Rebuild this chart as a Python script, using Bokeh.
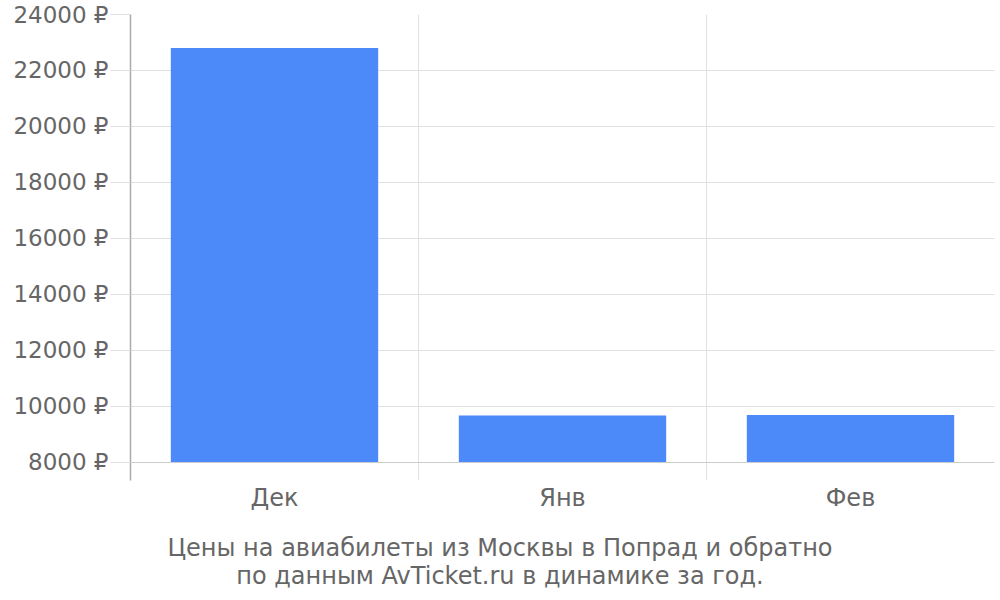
from bokeh.plotting import figure
from bokeh.models import FixedTicker, PrintfTickFormatter, Span, Range1d, Div
from bokeh.layouts import column
from bokeh.embed import file_html
from bokeh.resources import INLINE

months = ["Дек", "Янв", "Фев"]
prices = [22800, 9680, 9700]
y_ticks = [8000, 10000, 12000, 14000, 16000, 18000, 20000, 22000, 24000]
title_lines = ["Цены на авиабилеты из Москвы в Попрад и обратно",
               "по данным AvTicket.ru в динамике за год."]

FONT = "DejaVu Sans"
TEXT = "#666666"
GRID = "#e0e0e0"

centers = [i + 0.5 for i in range(len(months))]
bounds = list(range(len(months) + 1))
base = y_ticks[0]

p = figure(width=1000, height=534, output_backend="svg", toolbar_location=None,
           x_range=Range1d(0, len(months)), y_range=Range1d(7357, 24000),
           min_border_left=130, min_border_right=6, min_border_top=14, min_border_bottom=54)
p.outline_line_color = None
p.background_fill_color = "white"

p.vbar(x=centers, top=prices, bottom=base, width=0.72, fill_color="#4d8af9", line_color=None)

p.add_layout(Span(location=base, dimension="width", line_color="#cccccc", line_width=1.2))

# y axis
p.yaxis.ticker = FixedTicker(ticks=y_ticks)
p.yaxis.formatter = PrintfTickFormatter(format="%d ₽")
p.yaxis.major_label_text_font = FONT
p.yaxis.major_label_text_font_size = "23px"
p.yaxis.major_label_text_color = TEXT
p.yaxis.axis_line_color = "#aaaaaa"
p.yaxis.axis_line_width = 1.5
p.yaxis.major_tick_line_color = GRID
p.yaxis.major_tick_out = 20
p.yaxis.major_tick_in = 0
p.yaxis.minor_tick_line_color = None
p.yaxis.major_label_standoff = 2

# x axis
p.xaxis.ticker = FixedTicker(ticks=centers)
p.xaxis.major_label_overrides = {c: m for c, m in zip(centers, months)}
p.xaxis.major_label_text_font = FONT
p.xaxis.major_label_text_font_size = "24px"
p.xaxis.major_label_text_color = TEXT
p.xaxis.axis_line_color = None
p.xaxis.major_tick_line_color = None
p.xaxis.minor_tick_line_color = None
p.xaxis.major_label_standoff = -3

p.ygrid.ticker = FixedTicker(ticks=y_ticks)
p.ygrid.grid_line_color = GRID
p.xgrid.ticker = FixedTicker(ticks=bounds)
p.xgrid.grid_line_color = GRID

caption = Div(text="<br>".join(title_lines), width=1000, margin=0,
              styles={"text-align": "center", "font-family": FONT, "font-size": "24px",
                      "color": TEXT, "line-height": "28px", "width": "1000px"})

layout = column(p, caption, spacing=0)

open("out.html", "w").write(file_html(layout, INLINE))
